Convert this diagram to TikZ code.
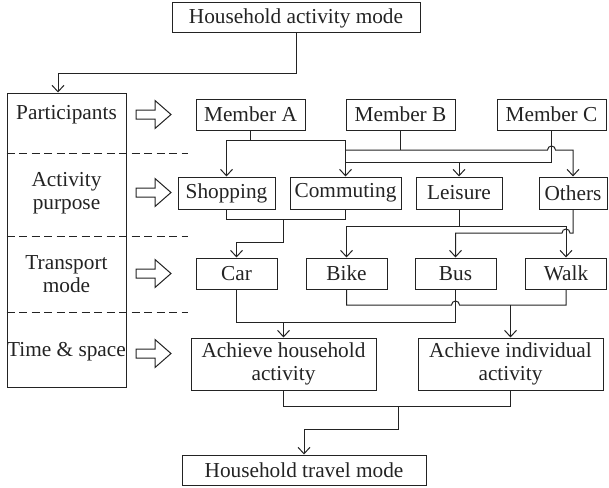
\documentclass[tikz,border=0pt]{standalone}
\usepackage{fontspec}
\setmainfont{Liberation Serif}
\usetikzlibrary{arrows.meta,calc}
\definecolor{ink}{RGB}{35,35,35}
\begin{document}
\begin{tikzpicture}[x=1pt,y=-1pt,
  txt/.style={font=\fontsize{21.3}{23}\selectfont, text=ink, align=center, inner sep=0pt},
  box/.style={txt, draw=ink, line width=1pt},
  conn/.style={draw=ink, line width=1pt},
  arr/.style={conn, -{Straight Barb[length=6.5pt,width=12pt]}},
  sep/.style={draw=ink, line width=1pt, dash pattern=on 8pt off 4.5pt},
  hollow/.style={draw=ink, line width=1pt, fill=white, line join=miter}]
\useasboundingbox (0,0) rectangle (609,487);
% nodes
\node[box, minimum width=248pt, minimum height=30pt] (top) at (296,18) {Household activity mode};
\node[box, minimum width=119pt, minimum height=294pt] (col) at (66.5,240) {};
\node[txt] (part) at (66.5,114.5) {Participants};
\node[txt] (purp) at (66.5,193) {Activity\\purpose};
\node[txt] (trans) at (66.5,274) {Transport\\mode};
\node[txt] (time) at (66.5,352) {Time \& space};
\node[box, minimum width=109pt, minimum height=31pt] (MA) at (250.5,114.5) {Member A};
\node[box, minimum width=109pt, minimum height=31pt] (MB) at (400.5,114.5) {Member B};
\node[box, minimum width=109pt, minimum height=31pt] (MC) at (551.5,114.5) {Member C};
\node[box, minimum width=97pt, minimum height=32pt] (shop) at (226.5,193) {Shopping};
\node[box, minimum width=111pt, minimum height=32pt] (comm) at (345.5,193) {Commuting};
\node[box, minimum width=86pt, minimum height=32pt] (leis) at (459,193) {Leisure};
\node[box, minimum width=68pt, minimum height=32pt] (oth) at (573,193) {Others};
\node[box, minimum width=81pt, minimum height=31pt] (car) at (236.5,273.5) {Car};
\node[box, minimum width=81pt, minimum height=31pt] (bike) at (346.5,273.5) {Bike};
\node[box, minimum width=81pt, minimum height=31pt] (bus) at (455.5,273.5) {Bus};
\node[box, minimum width=81pt, minimum height=31pt] (walk) at (566,273.5) {Walk};
\node[box, minimum width=185pt, minimum height=52pt] (hh) at (283.5,364) {Achieve household\\activity};
\node[box, minimum width=185pt, minimum height=52pt] (ind) at (510.5,364) {Achieve individual\\activity};
\node[box, minimum width=244pt, minimum height=30pt] (bot) at (304,470) {Household travel mode};
% helper coordinates
\coordinate (c1) at (58,73);
\coordinate (y140) at (0,140);
\coordinate (y150) at (0,150);
\coordinate (y162) at (0,162);
\coordinate (y219) at (0,219);
\coordinate (y226) at (0,226);
\coordinate (y233) at (0,233);
\coordinate (y242) at (0,242);
\coordinate (y305) at (0,305);
\coordinate (y322) at (0,322);
\coordinate (y406) at (0,406);
\coordinate (y429) at (0,429);
\coordinate (j1) at (283,219);
\coordinate (j2) at (398,406);
\coordinate (d1) at (188,153);
\coordinate (d2) at (188,236);
\coordinate (d3) at (188,312);
% dashed separators
\draw[sep] (col.west|-d1) -- (d1);
\draw[sep] (col.west|-d2) -- (d2);
\draw[sep] (col.west|-d3) -- (d3);
% hollow arrows
\foreach \yy in {114.5,192.5,273.5,353.5}
  \draw[hollow] (136,\yy-4.5) -- (155,\yy-4.5) -- (155,\yy-14) -- (171,\yy)
     -- (155,\yy+14) -- (155,\yy+4.5) -- (136,\yy+4.5) -- cycle;
% connectors
\draw[arr] (top.south) |- (c1) -- (c1|-col.north);
% member A
\draw[conn] (MA.south) -- (MA.south|-y140);
\draw[arr] (shop.north|-y140) -- (shop.north);
\draw[arr] (shop.north|-y140) -| (comm.north);
% member B
\draw[conn] (MB.south) -- (MB.south|-y150);
\draw[arr] (comm.north|-y150) -- ($(MC.south|-y150)+(-4,0)$) arc(180:360:4) -| (oth.north);
% member C
\draw[conn] (MC.south) -- (MC.south|-y162);
\draw[conn] (comm.north|-y162) -- (MC.south|-y162);
\draw[arr] (leis.north|-y162) -- (leis.north);
% shopping/commuting -> car
\draw[conn] (shop.south) -- (shop.south|-y219) -- (comm.south|-y219) -- (comm.south);
\draw[arr] (j1) |- (car.north|-y242) -- (car.north);
% leisure -> bike, walk
\draw[conn] (leis.south) -- (leis.south|-y226);
\draw[arr] (leis.south|-y226) -| (bike.north);
\draw[arr] (leis.south|-y226) -| (walk.north);
% others -> bus
\draw[arr] (oth.south) |- ($(walk.north|-y233)+(4,0)$) arc(360:180:4) -| (bus.north);
% bike/walk -> individual
\draw[conn] (bike.south) |- ($(bus.south|-y305)+(-4,0)$) arc(180:360:4) -| (walk.south);
\draw[arr] (ind.north|-y305) -- (ind.north);
% car/bus -> household
\draw[conn] (car.south) |- (bus.south|-y322) -- (bus.south);
\draw[arr] (hh.north|-y322) -- (hh.north);
% household/individual -> travel mode
\draw[conn] (hh.south) |- (ind.south|-y406) -- (ind.south);
\draw[arr] (j2) |- (bot.north|-y429) -- (bot.north);
\end{tikzpicture}
\end{document}
